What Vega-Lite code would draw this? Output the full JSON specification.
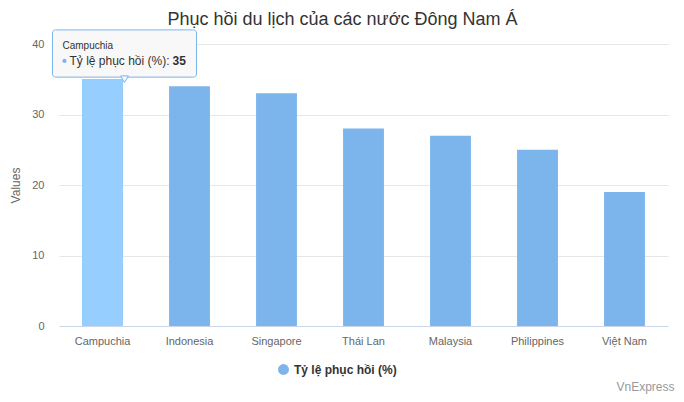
{
  "$schema": "https://vega.github.io/schema/vega-lite/v6.json",
  "width": 609,
  "height": 282,
  "autosize": {"type": "none"},
  "padding": {"left": 59, "top": 44, "right": 16, "bottom": 76},
  "background": "#ffffff",
  "title": {
    "text": "Phục hồi du lịch của các nước Đông Nam Á",
    "font": "Liberation Sans",
    "fontSize": 18,
    "fontWeight": "normal",
    "color": "#333333",
    "anchor": "middle",
    "dx": -21,
    "offset": 0
  },
  "data": {
    "values": [
      {"country": "Campuchia", "rate": 35},
      {"country": "Indonesia", "rate": 34},
      {"country": "Singapore", "rate": 33},
      {"country": "Thái Lan", "rate": 28},
      {"country": "Malaysia", "rate": 27},
      {"country": "Philippines", "rate": 25},
      {"country": "Việt Nam", "rate": 19}
    ]
  },
  "encoding": {
    "x": {
      "field": "country",
      "type": "nominal",
      "sort": null,
      "scale": {"paddingInner": 0.53, "paddingOuter": 0.265},
      "axis": {
        "title": null,
        "labelAngle": 0,
        "labelColor": "#666666",
        "labelFontSize": 11,
        "labelPadding": 9,
        "ticks": false,
        "domainColor": "#ccd6eb",
        "grid": false
      }
    }
  },
  "layer": [
    {
      "mark": {"type": "bar"},
      "encoding": {
        "y": {
          "field": "rate",
          "type": "quantitative",
          "scale": {"domain": [0, 40]},
          "axis": {
            "title": "Values",
            "titleColor": "#666666",
            "titleFontWeight": "normal",
            "titleFontSize": 12,
            "titlePadding": 9,
            "labelColor": "#666666",
            "labelFontSize": 11,
            "labelPadding": 15,
            "domain": false,
            "ticks": false,
            "gridColor": "#e6e6e6",
            "values": [0, 10, 20, 30, 40]
          }
        },
        "color": {
          "datum": "Tỷ lệ phục hồi (%)",
          "scale": {"range": ["#7cb5ec"]},
          "legend": {
            "title": null,
            "orient": "none",
            "legendX": 218,
            "legendY": 319,
            "symbolType": "circle",
            "symbolSize": 120,
            "symbolOpacity": 1,
            "labelFontSize": 12,
            "labelFontWeight": "bold",
            "labelColor": "#333333"
          }
        }
      }
    },
    {
      "transform": [{"filter": "datum.country == 'Campuchia'"}],
      "mark": {"type": "bar", "color": "#95ceff"},
      "encoding": {"y": {"field": "rate", "type": "quantitative"}}
    },
    {
      "transform": [{"filter": "datum.country == 'Campuchia'"}],
      "mark": {
        "type": "bar",
        "width": 144,
        "xOffset": 22,
        "fill": "#f7f7f7",
        "fillOpacity": 0.92,
        "stroke": "#7cb5ec",
        "strokeWidth": 1,
        "cornerRadius": 3
      },
      "encoding": {"y": {"datum": 35.3}, "y2": {"datum": 42}}
    },
    {
      "transform": [{"filter": "datum.country == 'Campuchia'"}],
      "mark": {
        "type": "point",
        "shape": "triangle-down",
        "size": 60,
        "filled": true,
        "fill": "#f7f7f7",
        "stroke": "#7cb5ec",
        "strokeWidth": 1,
        "opacity": 1,
        "xOffset": 22
      },
      "encoding": {"y": {"datum": 35.0}}
    },
    {
      "transform": [{"filter": "datum.country == 'Campuchia'"}],
      "mark": {
        "type": "text",
        "align": "left",
        "baseline": "middle",
        "dx": -40,
        "fontSize": 10,
        "color": "#333333"
      },
      "encoding": {"y": {"datum": 39.7}, "text": {"field": "country"}}
    },
    {
      "transform": [{"filter": "datum.country == 'Campuchia'"}],
      "mark": {
        "type": "point",
        "shape": "circle",
        "size": 18,
        "filled": true,
        "color": "#7cb5ec",
        "opacity": 1,
        "xOffset": -38
      },
      "encoding": {"y": {"datum": 37.6}}
    },
    {
      "transform": [{"filter": "datum.country == 'Campuchia'"}],
      "mark": {
        "type": "text",
        "align": "left",
        "baseline": "middle",
        "dx": -33,
        "fontSize": 12,
        "color": "#333333"
      },
      "encoding": {"y": {"datum": 37.6}, "text": {"value": "Tỷ lệ phục hồi (%): "}}
    },
    {
      "transform": [{"filter": "datum.country == 'Campuchia'"}],
      "mark": {
        "type": "text",
        "align": "left",
        "baseline": "middle",
        "dx": 70,
        "fontSize": 12,
        "fontWeight": "bold",
        "color": "#333333"
      },
      "encoding": {"y": {"datum": 37.6}, "text": {"field": "rate", "type": "quantitative"}}
    },
    {
      "transform": [{"filter": "datum.country == 'Việt Nam'"}],
      "mark": {
        "type": "text",
        "align": "right",
        "baseline": "middle",
        "dx": 50,
        "fontSize": 12,
        "color": "#999999"
      },
      "encoding": {"y": {"datum": -8.7}, "text": {"value": "VnExpress"}}
    }
  ],
  "config": {
    "font": "Liberation Sans",
    "view": {"stroke": null},
    "axis": {"labelFont": "Liberation Sans", "titleFont": "Liberation Sans"},
    "legend": {"labelFont": "Liberation Sans"},
    "text": {"font": "Liberation Sans"}
  }
}
